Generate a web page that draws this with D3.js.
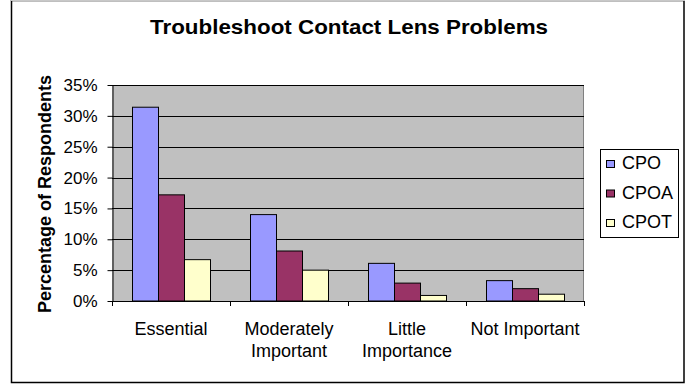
<!DOCTYPE html>
<html><head><meta charset="utf-8">
<script src="https://cdn.jsdelivr.net/npm/d3@7"></script>
<style>body{margin:0;background:#fff}svg{display:block}text{font-family:Arial,"Liberation Sans",sans-serif}</style>
</head><body><svg id="c" width="691" height="387"></svg>
<script>
const categories = [["Essential"], ["Moderately", "Important"], ["Little", "Importance"], ["Not Important"]];
const seriesNames = ["CPO", "CPOA", "CPOT"];
const CPO  = [31.4, 14.0, 6.1, 3.3];
const CPOA = [17.2, 8.1, 2.9, 2.0];
const CPOT = [6.7, 5.0, 0.9, 1.1];
const colors = ["#9999FF", "#993366", "#FFFFCC"];
const yTicks = [0, 5, 10, 15, 20, 25, 30, 35];
const title = "Troubleshoot Contact Lens Problems";
const yTitle = "Percentage of Respondents";

const series = [CPO, CPOA, CPOT];
const svg = d3.select("#c");
const L = 112, R = 584, T = 85, B = 301;

svg.append("rect").attr("x", 11.5).attr("y", 0.5).attr("width", 672.5).attr("height", 382)
  .attr("fill", "#fff").attr("stroke", "#000").attr("stroke-width", 1.5);
svg.append("line").attr("x1", 11).attr("x2", 685).attr("y1", 0.5).attr("y2", 0.5).attr("stroke", "#c8c8c8");

const x0 = d3.scaleBand().domain(d3.range(categories.length)).range([L, R]).paddingInner(0).paddingOuter(0);
const x1 = d3.scaleBand().domain(d3.range(series.length)).range([20, x0.bandwidth() - 20]);
const y = d3.scaleLinear().domain([0, 35]).range([B, T]);

svg.append("rect").attr("x", L).attr("y", T).attr("width", R - L).attr("height", B - T).attr("fill", "#C0C0C0");
svg.append("line").attr("x1", R - 0.5).attr("x2", R - 0.5).attr("y1", T).attr("y2", B).attr("stroke", "#808080");

svg.append("g").selectAll("line").data(yTicks.slice(1)).join("line")
  .attr("x1", L).attr("x2", R).attr("y1", d => Math.round(y(d)) + 0.5).attr("y2", d => Math.round(y(d)) + 0.5)
  .attr("stroke", "#000").attr("stroke-width", 1);

categories.forEach((c, i) => {
  series.forEach((s, j) => {
    svg.append("rect")
      .attr("x", x0(i) + x1(j) + 0.5).attr("y", y(s[i]))
      .attr("width", x1.bandwidth()).attr("height", B - y(s[i]))
      .attr("fill", colors[j]).attr("stroke", "#000").attr("stroke-width", 1);
  });
});

const yAxis = d3.axisLeft(y).tickValues(yTicks).tickFormat(d => d + "%").tickSizeInner(5).tickSizeOuter(0).tickPadding(10);
const gy = svg.append("g").attr("transform", `translate(${L + 0.5},0)`).call(yAxis);
gy.select(".domain").attr("stroke", "#000");
gy.selectAll("text").attr("font-size", 17).attr("fill", "#000").attr("font-family", "Arial, 'Liberation Sans', sans-serif");

svg.append("line").attr("x1", L).attr("x2", R).attr("y1", B + 0.5).attr("y2", B + 0.5).attr("stroke", "#000");
svg.append("g").selectAll("line").data(d3.range(categories.length + 1)).join("line")
  .attr("x1", d => L + d * x0.bandwidth() + 0.5).attr("x2", d => L + d * x0.bandwidth() + 0.5)
  .attr("y1", B).attr("y2", B + 5).attr("stroke", "#000");

categories.forEach((c, i) => {
  const cx = x0(i) + x0.bandwidth() / 2;
  const t = svg.append("text").attr("x", cx).attr("y", 335)
    .attr("text-anchor", "middle").attr("font-size", 18).attr("fill", "#000");
  c.forEach((line, k) => t.append("tspan").attr("x", cx).attr("dy", k ? 22 : 0).text(line));
});

svg.append("text").attr("x", 349).attr("y", 34).attr("text-anchor", "middle")
  .attr("font-size", 21).attr("font-weight", "bold")
  .attr("textLength", 398).attr("lengthAdjust", "spacingAndGlyphs").text(title);
svg.append("text").attr("transform", "translate(51,194) rotate(-90)").attr("text-anchor", "middle")
  .attr("font-size", 18).attr("font-weight", "bold").text(yTitle);

const lg = svg.append("g");
lg.append("rect").attr("x", 600.5).attr("y", 149.5).attr("width", 78).attr("height", 88)
  .attr("fill", "#fff").attr("stroke", "#000");
seriesNames.forEach((n, j) => {
  const base = 169 + j * 29.5;
  lg.append("rect").attr("x", 606.5).attr("y", base - 8.5).attr("width", 8).attr("height", 7)
    .attr("fill", colors[j]).attr("stroke", "#000");
  lg.append("text").attr("x", 622).attr("y", base).attr("font-size", 18).text(n);
});
</script></body></html>
